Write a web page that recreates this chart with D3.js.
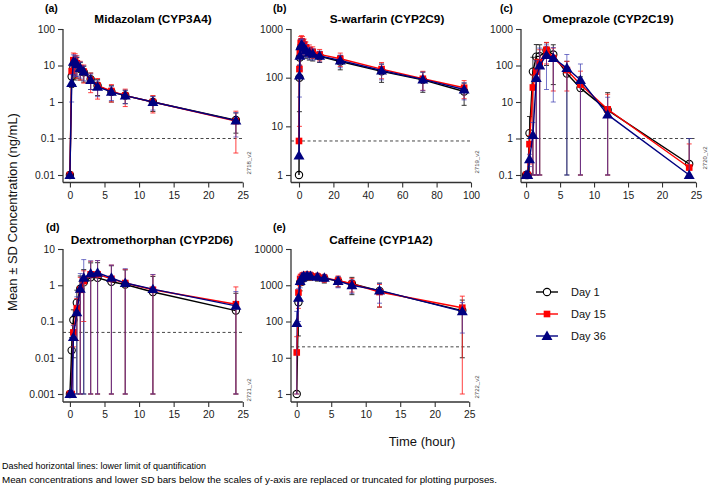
<!DOCTYPE html>
<html><head><meta charset="utf-8">
<script src="https://cdn.jsdelivr.net/npm/d3@7"></script>
<style>
body{margin:0;background:#fff;}
svg{display:block;font-family:"Liberation Sans",Arial,Helvetica,sans-serif;}
</style></head>
<body>
<svg id="chart" width="709" height="491"></svg>
<script>
// ---------- DATA ----------
const dayLabels = ["Day 1", "Day 15", "Day 36"];

// (a) Midazolam
const midazolamTime = [0, 0.25, 0.5, 0.75, 1, 1.5, 2, 3, 4, 6, 8, 12, 24];
const midazolamDay1 = [0.01, 5, 9, 11, 10.5, 8, 6.5, 4.2, 2.8, 1.9, 1.5, 1.0, 0.32];
const midazolamDay1SD = [0, 2.5, 6, 7, 6, 4, 3, 2, 1.3, 0.9, 0.6, 0.45, 0.18];
const midazolamDay15 = [0.01, 7, 14, 13, 11.5, 8.5, 6.8, 4.0, 2.8, 2.0, 1.5, 1.0, 0.30];
const midazolamDay15SD = [0, 4, 8, 8, 7, 4.5, 3.5, 2.2, 1.6, 1.0, 0.75, 0.5, 0.26];
const midazolamDay36 = [0.01, 3.3, 12.6, 12, 11, 8.5, 6.8, 4.0, 2.6, 1.9, 1.5, 1.0, 0.31];
const midazolamDay36SD = [0, 2.3, 7, 7, 6, 4, 3, 1.8, 1.2, 0.8, 0.6, 0.4, 0.2];

// (b) S-warfarin
const warfarinTime = [0, 0.25, 0.5, 1, 1.5, 2, 3, 4, 6, 8, 12, 24, 48, 72, 96];
const warfarinDay1 = [1, 100, 260, 400, 430, 420, 390, 350, 320, 300, 275, 215, 135, 90, 52];
const warfarinDay1SD = [0, 80, 120, 150, 150, 140, 120, 100, 90, 80, 70, 70, 55, 40, 25];
const warfarinDay15 = [5, 150, 330, 520, 560, 540, 480, 420, 370, 340, 300, 245, 150, 95, 62];
const warfarinDay15SD = [0, 140, 150, 180, 170, 160, 140, 120, 100, 90, 80, 75, 55, 40, 25];
const warfarinDay36 = [2.5, 110, 280, 440, 470, 450, 410, 370, 330, 310, 280, 225, 140, 92, 57];
const warfarinDay36SD = [0, 70, 130, 160, 160, 150, 130, 110, 90, 80, 70, 65, 50, 38, 22];

// (c) Omeprazole
const omeprazoleTime = [0, 0.25, 0.5, 1, 1.5, 2, 3, 4, 6, 8, 12, 24];
const omeprazoleDay1 = [0.1, 0.1, 1.4, 68, 175, 180, 260, 200, 60, 24, 6, 0.2];
const omeprazoleDay1SD = [0, 0, 2.6, 100, 200, 190, 160, 170, 70, 25, 12, 0.8];
const omeprazoleDay15 = [0.1, 0.1, 0.7, 25, 68, 120, 270, 160, 75, 30, 6.3, 0.16];
const omeprazoleDay15SD = [0, 0, 0.5, 30, 80, 150, 160, 140, 55, 40, 10, 0.55];
const omeprazoleDay36 = [0.1, 0.1, 0.27, 1.25, 45, 100, 195, 160, 85, 40, 4.5, 0.1];
const omeprazoleDay36SD = [0, 0, 0.1, 1.5, 90, 200, 173, 150, 115, 70, 9, 0.9];

// (d) Dextromethorphan
const dextroTime = [0, 0.25, 0.5, 1, 1.5, 2, 3, 4, 6, 8, 12, 24];
const dextroDay1 = [0.001, 0.016, 0.11, 0.33, 0.8, 1.2, 1.65, 1.6, 1.25, 1.05, 0.65, 0.2];
const dextroDay1SD = [0, 0.02, 0.1, 0.4, 1.0, 1.5, 2.5, 2.6, 2.2, 1.6, 1.1, 0.4];
const dextroDay15 = [0.001, 0.001, 0.05, 0.23, 0.75, 1.3, 2.0, 2.0, 1.5, 1.15, 0.75, 0.3];
const dextroDay15SD = [0, 0, 0.03, 0.2, 0.9, 1.2, 2.6, 2.8, 2.1, 1.6, 1.2, 0.6];
const dextroDay36 = [0.001, 0.001, 0.037, 0.18, 0.8, 1.6, 2.1, 2.2, 1.6, 1.15, 0.78, 0.27];
const dextroDay36SD = [0, 0, 0.04, 0.3, 1.3, 3.5, 2.6, 2.6, 2.0, 1.7, 1.2, 0.4];

// (e) Caffeine
const caffeineTime = [0, 0.25, 0.5, 0.75, 1, 1.5, 2, 3, 4, 6, 8, 12, 24];
const caffeineDay1 = [1, 340, 1200, 1500, 1700, 1800, 1800, 1700, 1550, 1300, 1100, 700, 200];
const caffeineDay1SD = [0, 300, 500, 500, 450, 450, 450, 400, 400, 400, 550, 450, 190];
const caffeineDay15 = [14, 630, 1500, 1700, 1850, 1900, 1850, 1750, 1600, 1350, 1100, 650, 240];
const caffeineDay15SD = [24, 400, 500, 500, 450, 450, 450, 400, 400, 450, 450, 400, 260];
const caffeineDay36 = [90, 450, 1300, 1600, 1800, 1850, 1800, 1700, 1600, 1300, 1000, 720, 190];
const caffeineDay36SD = [100, 350, 450, 450, 400, 400, 400, 350, 350, 450, 400, 400, 142];

// axes ticks & LLOQ
const xTicks25 = [0, 5, 10, 15, 20, 25];
const xTicks100 = [0, 20, 40, 60, 80, 100];
const yTicksA = [0.01, 0.1, 1, 10, 100];
const yTicksB = [1, 10, 100, 1000];
const yTicksC = [0.1, 1, 10, 100, 1000];
const yTicksD = [0.001, 0.01, 0.1, 1, 10];
const yTicksE = [1, 10, 100, 1000, 10000];
const lloq = [0.1, 5, 1, 0.05, 20];
const panelTitles = ["Midazolam (CYP3A4)", "S-warfarin (CYP2C9)", "Omeprazole (CYP2C19)", "Dextromethorphan (CYP2D6)", "Caffeine (CYP1A2)"];
const panelLetters = ["(a)", "(b)", "(c)", "(d)", "(e)"];
const figCodes = ["2718_v2", "2719_v2", "2720_v2", "2721_v2", "2722_v2"];

// ---------- BUILD ----------
const panels = [
  {time: midazolamTime, means: [midazolamDay1, midazolamDay15, midazolamDay36], sds: [midazolamDay1SD, midazolamDay15SD, midazolamDay36SD], xt: xTicks25, yt: yTicksA,
   xd: [-1, 25], xr: [63, 242.8], row: 0, titleX: 153, letterX: 45, codeX: 249, codeY: 163},
  {time: warfarinTime, means: [warfarinDay1, warfarinDay15, warfarinDay36], sds: [warfarinDay1SD, warfarinDay15SD, warfarinDay36SD], xt: xTicks100, yt: yTicksB,
   xd: [-4.65, 100], xr: [291, 471], row: 0, titleX: 387, letterX: 273, codeX: 477, codeY: 162},
  {time: omeprazoleTime, means: [omeprazoleDay1, omeprazoleDay15, omeprazoleDay36], sds: [omeprazoleDay1SD, omeprazoleDay15SD, omeprazoleDay36SD], xt: xTicks25, yt: yTicksC,
   xd: [-0.75, 25], xr: [521, 696], row: 0, titleX: 608, letterX: 500, codeX: 705, codeY: 158},
  {time: dextroTime, means: [dextroDay1, dextroDay15, dextroDay36], sds: [dextroDay1SD, dextroDay15SD, dextroDay36SD], xt: xTicks25, yt: yTicksD,
   xd: [-1, 25], xr: [63, 242.8], row: 1, titleX: 152, letterX: 46, codeX: 249, codeY: 390},
  {time: caffeineTime, means: [caffeineDay1, caffeineDay15, caffeineDay36], sds: [caffeineDay1SD, caffeineDay15SD, caffeineDay36SD], xt: xTicks25, yt: yTicksE,
   xd: [-0.83, 25], xr: [291, 469.2], row: 1, titleX: 381, letterX: 273, codeX: 477, codeY: 387}
];
const rows = [{top: 29, bottom: 175, axisY: 182.5, titleY: 23, letterY: 12},
              {top: 249, bottom: 394, axisY: 402, titleY: 244, letterY: 231}];

const lineColors = ["#000000", "#ff0000", "#000080"];
const barColors = ["#222222", "#ff2020", "#3a3ab0"];
const barOpacity = [0.9, 0.85, 0.7];
const axisColor = "#333333";

const svg = d3.select("#chart");

panels.forEach((p, i) => {
  const r = rows[p.row];
  const x = d3.scaleLinear().domain(p.xd).range(p.xr);
  const yMin = p.yt[0], yMax = p.yt[p.yt.length - 1];
  const y = d3.scaleLog().domain([yMin, yMax]).range([r.bottom, r.top]);
  const g = svg.append("g");
  const ax = p.xr[0];

  // y axis
  const yAxis = d3.axisLeft(y).tickValues(p.yt).tickSize(5).tickPadding(3)
      .tickFormat(d => String(d));
  const ya = g.append("g").attr("transform", `translate(${ax},0)`).call(yAxis);
  ya.select(".domain").remove();
  ya.append("line").attr("x1", 0).attr("x2", 0).attr("y1", r.top).attr("y2", r.axisY)
    .attr("stroke", axisColor).attr("stroke-width", 1.3);
  // x axis
  const xAxis = d3.axisBottom(x).tickValues(p.xt).tickSize(5).tickPadding(4);
  const xa = g.append("g").attr("transform", `translate(0,${r.axisY})`).call(xAxis);
  xa.select(".domain").remove();
  xa.append("line").attr("x1", ax).attr("x2", x(p.xt[p.xt.length - 1])).attr("y1", 0).attr("y2", 0)
    .attr("stroke", axisColor).attr("stroke-width", 1.3);
  [ya, xa].forEach(a => {
    a.selectAll(".tick line").attr("stroke", axisColor).attr("stroke-width", 1.1);
    a.selectAll(".tick text").attr("fill", "#1a1a1a").style("font-size", "10.3px")
      .style("font-family", '"Liberation Sans",Arial,sans-serif');
  });

  // LLOQ dashed
  g.append("line").attr("x1", ax).attr("x2", x(p.xt[p.xt.length - 1]) + 1)
    .attr("y1", y(lloq[i])).attr("y2", y(lloq[i]))
    .attr("stroke", "#333").attr("stroke-width", 0.9).attr("stroke-dasharray", "3,2.5");

  // series
  p.means.forEach((m, s) => {
    const pts = p.time.map((t, k) => ({t, v: m[k], sd: p.sds[s][k]}));
    // error bars
    const eb = g.append("g").attr("stroke", barColors[s]).attr("stroke-opacity", barOpacity[s]).attr("stroke-width", 1);
    pts.forEach(d => {
      if (!d.sd) return;
      const hi = Math.min(d.v + d.sd, yMax * 1.2);
      let lo = d.v - d.sd;
      if (lo < yMin) lo = yMin;
      const cx = x(d.t);
      eb.append("line").attr("x1", cx).attr("x2", cx).attr("y1", y(lo)).attr("y2", y(hi));
      eb.append("line").attr("x1", cx - 2.5).attr("x2", cx + 2.5).attr("y1", y(hi)).attr("y2", y(hi));
      eb.append("line").attr("x1", cx - 2.5).attr("x2", cx + 2.5).attr("y1", y(lo)).attr("y2", y(lo));
    });
    // line
    g.append("path").datum(pts)
      .attr("d", d3.line().x(d => x(d.t)).y(d => y(d.v)))
      .attr("fill", "none").attr("stroke", lineColors[s]).attr("stroke-width", 1.4);
    // markers
    const sym = [d3.symbolCircle, d3.symbolSquare, d3.symbolTriangle][s];
    const size = [42, 44, 52][s];
    g.append("g").selectAll("path").data(pts).join("path")
      .attr("transform", d => `translate(${x(d.t)},${y(d.v) + (s === 2 ? 0.8 : 0)})`)
      .attr("d", d3.symbol(sym, size))
      .attr("fill", s === 0 ? "#ffffff" : lineColors[s])
      .attr("fill-opacity", s === 0 ? 0 : 1)
      .attr("stroke", lineColors[s]).attr("stroke-width", s === 0 ? 1.1 : 0);
  });

  // title & letter
  g.append("text").attr("x", p.titleX).attr("y", r.titleY).attr("text-anchor", "middle")
    .style("font-size", "11.8px").style("font-weight", "bold").text(panelTitles[i]);
  g.append("text").attr("x", p.letterX).attr("y", r.letterY)
    .style("font-size", "10.5px").style("font-weight", "bold").text(panelLetters[i]);
  // figure code
  g.append("text").attr("transform", `translate(${p.codeX + 2},${p.codeY}) rotate(-90)`)
    .attr("text-anchor", "middle").style("font-size", "6px").attr("fill", "#444").text(figCodes[i]);
});

// axis titles
svg.append("text").attr("transform", "translate(17,212) rotate(-90)").attr("text-anchor", "middle")
  .style("font-size", "13px").attr("fill", "#111").text("Mean ± SD Concentration (ng/mL)");
svg.append("text").attr("x", 422).attr("y", 446).attr("text-anchor", "middle")
  .style("font-size", "13px").attr("fill", "#111").text("Time (hour)");

// footnotes
svg.append("text").attr("x", 2).attr("y", 469).style("font-size", "9px")
  .style("font-family", '"Liberation Sans Narrow","Liberation Sans",Arial,sans-serif')
  .attr("textLength", 204).attr("lengthAdjust", "spacingAndGlyphs")
  .text("Dashed horizontal lines: lower limit of quantification");
svg.append("text").attr("x", 2).attr("y", 483).style("font-size", "9px")
  .style("font-family", '"Liberation Sans Narrow","Liberation Sans",Arial,sans-serif')
  .attr("textLength", 495).attr("lengthAdjust", "spacingAndGlyphs")
  .text("Mean concentrations and lower SD bars below the scales of y-axis are replaced or truncated for plotting purposes.");

// legend
const legY = [292, 314, 336];
dayLabels.forEach((lab, s) => {
  const lg = svg.append("g");
  lg.append("line").attr("x1", 536).attr("x2", 558).attr("y1", legY[s]).attr("y2", legY[s])
    .attr("stroke", lineColors[s]).attr("stroke-width", 1.4);
  const sym = [d3.symbolCircle, d3.symbolSquare, d3.symbolTriangle][s];
  lg.append("path").attr("transform", `translate(547,${legY[s] + (s === 2 ? 0.8 : 0)})`)
    .attr("d", d3.symbol(sym, [42, 44, 52][s]))
    .attr("fill", s === 0 ? "#ffffff" : lineColors[s])
    .attr("stroke", lineColors[s]).attr("stroke-width", s === 0 ? 1.1 : 0);
  lg.append("text").attr("x", 571).attr("y", legY[s] + 4).style("font-size", "11px").attr("fill", "#111").text(lab);
});
</script>
</body></html>
